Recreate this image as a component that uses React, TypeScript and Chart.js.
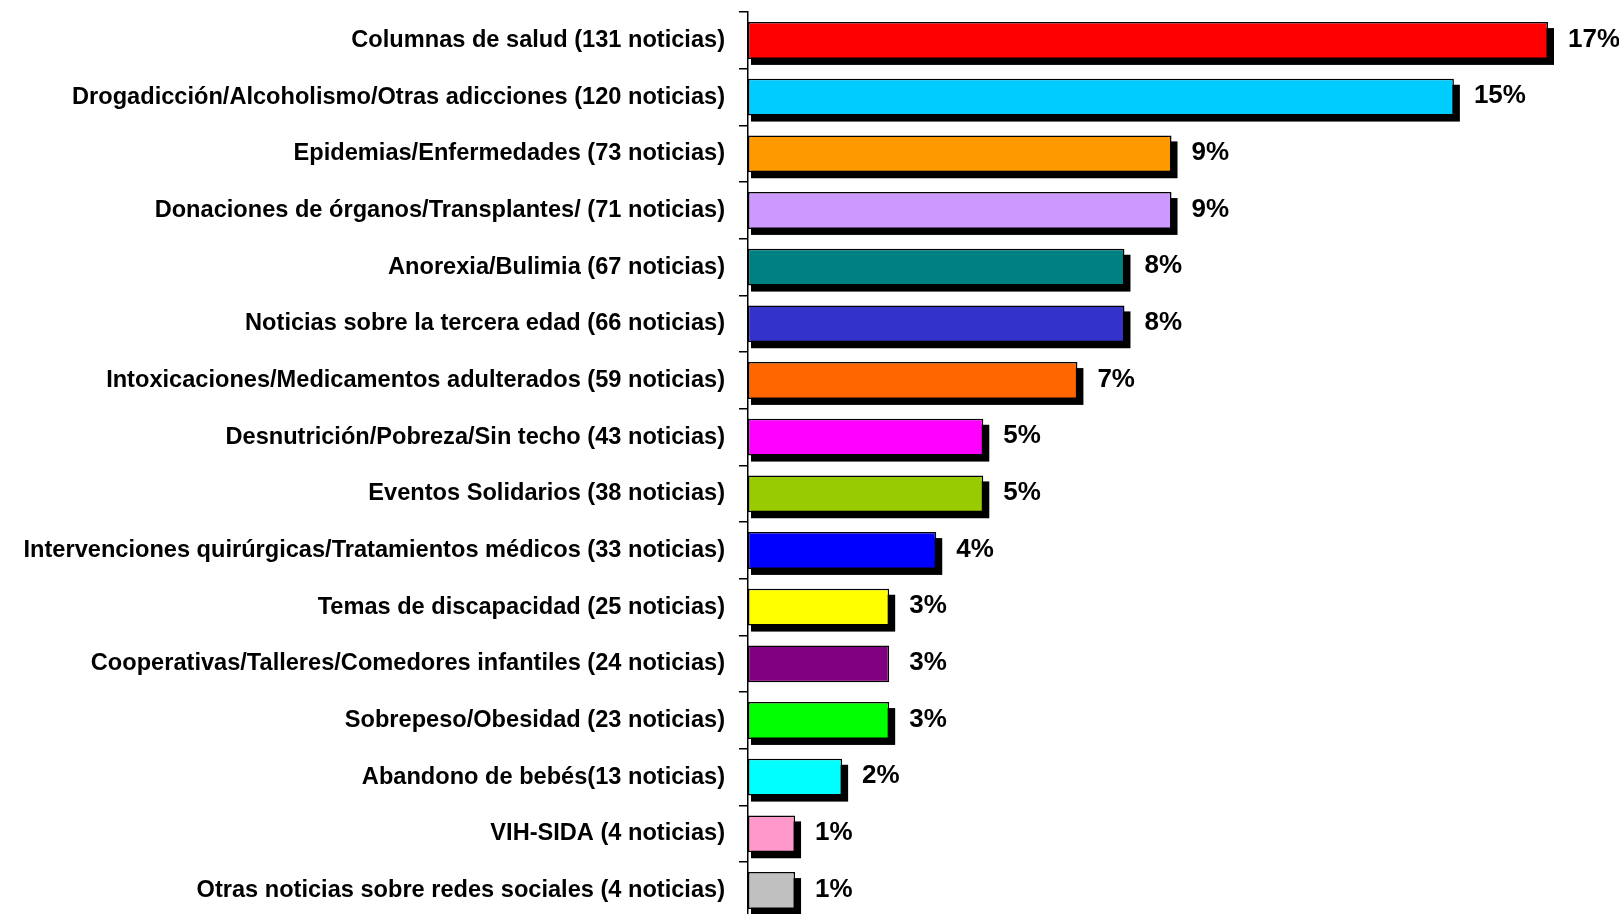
import React, { useEffect, useRef } from "react";
import { Chart, registerables } from "chart.js";

Chart.register(...registerables);

const categories = [
  "Columnas de salud (131 noticias)",
  "Drogadicción/Alcoholismo/Otras adicciones (120 noticias)",
  "Epidemias/Enfermedades (73 noticias)",
  "Donaciones de órganos/Transplantes/ (71 noticias)",
  "Anorexia/Bulimia (67 noticias)",
  "Noticias sobre la tercera edad (66 noticias)",
  "Intoxicaciones/Medicamentos adulterados (59 noticias)",
  "Desnutrición/Pobreza/Sin techo (43 noticias)",
  "Eventos Solidarios (38 noticias)",
  "Intervenciones quirúrgicas/Tratamientos médicos (33 noticias)",
  "Temas de discapacidad (25 noticias)",
  "Cooperativas/Talleres/Comedores infantiles (24 noticias)",
  "Sobrepeso/Obesidad (23 noticias)",
  "Abandono de bebés(13 noticias)",
  "VIH-SIDA (4 noticias)",
  "Otras noticias sobre redes sociales (4 noticias)",
];

const percentages = [17, 15, 9, 9, 8, 8, 7, 5, 5, 4, 3, 3, 3, 2, 1, 1];

const barColors = [
  "#FF0000",
  "#00CCFF",
  "#FF9900",
  "#CC99FF",
  "#008080",
  "#3333CC",
  "#FF6600",
  "#FF00FF",
  "#99CC00",
  "#0000FF",
  "#FFFF00",
  "#800080",
  "#00FF00",
  "#00FFFF",
  "#FF99CC",
  "#C0C0C0",
];

const shadowColors = [
  "#000", "#000", "#000", "#000", "#000", "#000", "#000", "#000",
  "#000", "#000", "#000", "transparent", "#000", "#000", "#000", "#000",
];

const FONT = "'Liberation Sans', Arial, sans-serif";

const shadowPlugin = {
  id: "barShadow",
  beforeDatasetsDraw(chart: any) {
    const ctx = chart.ctx;
    const meta = chart.getDatasetMeta(0);
    ctx.save();
    meta.data.forEach((bar: any, i: number) => {
      const p = bar.getProps(["x", "y", "base", "height"], true);
      ctx.fillStyle = shadowColors[i];
      const left = Math.min(p.base, p.x);
      const w = Math.abs(p.x - p.base);
      ctx.fillRect(left + 3, p.y - p.height / 2 + 6, w + 3, p.height);
    });
    ctx.restore();
  },
};

const labelPlugin = {
  id: "pctLabels",
  afterDatasetsDraw(chart: any) {
    const ctx = chart.ctx;
    const meta = chart.getDatasetMeta(0);
    ctx.save();
    ctx.fillStyle = "#000";
    ctx.font = `bold 26px ${FONT}`;
    ctx.textAlign = "left";
    ctx.textBaseline = "middle";
    meta.data.forEach((bar: any, i: number) => {
      const p = bar.getProps(["x", "y"], true);
      ctx.fillText(`${percentages[i]}%`, p.x + 20, p.y - 1);
    });
    ctx.restore();
  },
};

export default function App() {
  const ref = useRef<HTMLCanvasElement | null>(null);

  useEffect(() => {
    if (!ref.current) return;
    const chart = new Chart(ref.current, {
      type: "bar",
      data: {
        labels: categories,
        datasets: [
          {
            data: percentages,
            backgroundColor: barColors,
            borderColor: "#000",
            borderWidth: 1.5,
            borderSkipped: false,
            categoryPercentage: 1,
            barPercentage: 0.65,
          },
        ],
      },
      options: {
        indexAxis: "y",
        animation: false,
        responsive: false,
        maintainAspectRatio: false,
        layout: { padding: { top: 0, right: 71, left: 0, bottom: 0 } },
        plugins: {
          legend: { display: false },
          tooltip: { enabled: false },
        },
        scales: {
          x: {
            display: false,
            min: 0,
            max: 17,
          },
          y: {
            afterFit(scale: any) {
              scale.width = 748;
            },
            border: { display: true, color: "#000", width: 1.5 },
            grid: {
              offset: true,
              drawOnChartArea: false,
              drawTicks: true,
              tickLength: 9,
              color: "#000",
              lineWidth: 1.5,
            },
            ticks: {
              color: "#000",
              padding: 14,
              autoSkip: false,
              font: { family: FONT, size: 23.6, weight: "bold" },
            },
          },
        },
      },
      plugins: [shadowPlugin, labelPlugin],
    });
    return () => chart.destroy();
  }, []);

  return (
    <div
      style={{
        position: "fixed",
        left: 0,
        top: 0,
        width: 1619,
        height: 914,
        overflow: "hidden",
        background: "#fff",
      }}
    >
      <canvas
        ref={ref}
        width={1619}
        height={963}
        style={{ display: "block", marginTop: -16 }}
      />
    </div>
  );
}
